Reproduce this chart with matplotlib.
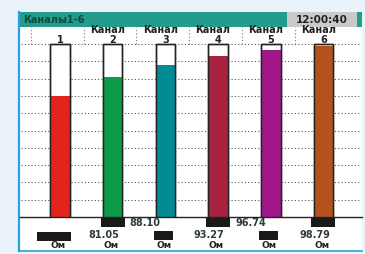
import matplotlib
matplotlib.use("Agg")
import matplotlib.pyplot as plt
from matplotlib.transforms import blended_transform_factory
from matplotlib.patches import Rectangle

# ---- data ----
channels = ["1", "2", "3", "4", "5", "6"]
values = [70.0, 81.05, 88.10, 93.27, 96.74, 98.79]
value_labels = ["", "81.05", "88.10", "93.27", "96.74", "98.79"]
units = ["Ом", "Ом", "Ом", "Ом", "Ом", "Ом"]
colors = ["#e3231d", "#0b9a47", "#008b95", "#a8213f", "#a0178a", "#b4511d"]
title = "Каналы1-6"
clock = "12:00:40"
grid_levels = [10, 20, 30, 40, 50, 60, 70, 80, 90, 100]
scale_max = 100

W, H = 365, 254
fig = plt.figure(figsize=(W / 100, H / 100), dpi=100)
fig.patch.set_facecolor("#eaf3fa")

# background pixel axes
bg = fig.add_axes([0, 0, 1, 1])
bg.set_xlim(0, W)
bg.set_ylim(H, 0)
bg.axis("off")

# screen
bg.add_patch(Rectangle((19, 12), 343, 239, facecolor="white", edgecolor="none"))
bg.plot([19, 19], [12, 251], color="#2c9fe0", lw=1.6)
bg.plot([19, 362], [250.5, 250.5], color="#2c9fe0", lw=1.2)
# title bar
bg.add_patch(Rectangle((20, 12), 342, 15, facecolor="#229c8c", edgecolor="none"))
bg.add_patch(Rectangle((287, 12), 70, 15, facecolor="#c9cbc8", edgecolor="none"))
bg.text(23, 20, title, fontsize=7, fontweight="bold", color="#0c4a3c", va="center", ha="left")
bg.text(322, 20, clock, fontsize=7.5, fontweight="bold", color="#222222", va="center", ha="center")
# separator
bg.plot([20, 362], [217, 217], color="#222222", lw=1.0)

# bar axes: value 0 at y=217px, 100 at y=44px
px_per_val = (217 - 44) / scale_max
top_val = (217 - 27) / px_per_val
x0_px, dx_px = 60, 52.7
left_u = (20 - x0_px) / dx_px
right_u = (362 - x0_px) / dx_px
ax = fig.add_axes([20 / W, (H - 217) / H, (362 - 20) / W, (217 - 27) / H])
ax.set_xlim(left_u, right_u)
ax.set_ylim(0, top_val)
ax.axis("off")
ax.patch.set_alpha(0)

xs = list(range(len(channels)))
ax.hlines(grid_levels, left_u + 0.02, right_u - 0.02, colors="#555555",
          linestyles=(0, (1, 2)), lw=0.8, zorder=1)
ax.vlines([i - 0.55 for i in xs], scale_max, top_val, colors="#777777",
          linestyles=(0, (1, 2)), lw=0.8, zorder=1)

bw = 19.5 / dx_px
ax.bar(xs, [scale_max] * len(xs), width=bw, color="white", edgecolor="#222222", lw=1.0, zorder=2)
ax.bar(xs, values, width=bw, color=colors, edgecolor="none", zorder=3)
ax.bar(xs, [scale_max] * len(xs), width=bw, color="none", edgecolor="#222222", lw=1.0, zorder=4)

tr = blended_transform_factory(ax.transData, bg.transData)
for i, ch in enumerate(channels):
    if i > 0:
        bg.text(i - 0.1, 30, "Канал", transform=tr, fontsize=7, fontweight="bold",
                color="#222222", ha="center", va="center")
    bg.text(i, 40, ch, transform=tr, fontsize=7, fontweight="bold",
            color="#222222", ha="center", va="center")

    # value rows
    if i % 2 == 0:
        # value on row 1, black box on row 2
        bg.text(i - 0.38, 223.5, value_labels[i], transform=tr, fontsize=7, fontweight="bold",
                color="#2f3b3b", ha="center", va="center")
        if i == 0:
            bg.add_patch(Rectangle((i - 0.43, 232), 34 / dx_px, 9, transform=tr,
                                   facecolor="#1a1a1a", edgecolor="none"))
        else:
            bg.add_patch(Rectangle((i - 0.22, 231), 19 / dx_px, 9, transform=tr,
                                   facecolor="#1a1a1a", edgecolor="none"))
    else:
        bg.add_patch(Rectangle((i - 0.23, 217), 24 / dx_px, 10, transform=tr,
                               facecolor="#1a1a1a", edgecolor="none"))
        bg.text(i - 0.17, 234.5, value_labels[i], transform=tr, fontsize=7, fontweight="bold",
                color="#2f3b3b", ha="center", va="center")
    bg.text(i - 0.03, 246, units[i], transform=tr, fontsize=6.5, fontweight="bold",
            color="#222222", ha="center", va="center")

fig.savefig("out.png", dpi=100, facecolor=fig.get_facecolor())
